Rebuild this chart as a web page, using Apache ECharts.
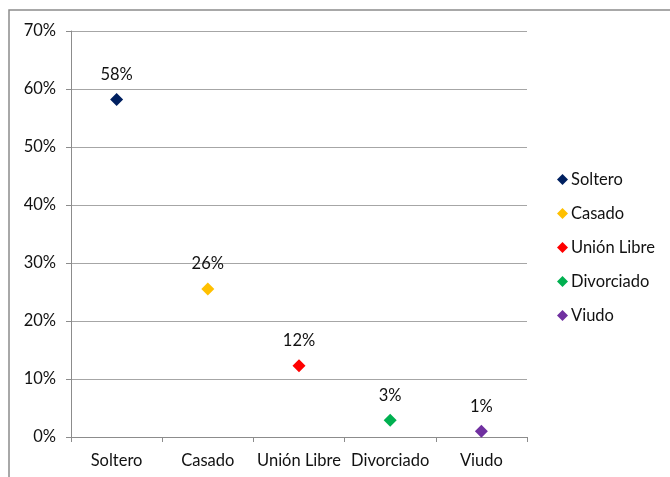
<!DOCTYPE html>
<html><head><meta charset="utf-8">
<script src="https://cdn.jsdelivr.net/npm/echarts@6/dist/echarts.min.js"></script>
<style>html,body{margin:0;padding:0;background:#fff;}#c{width:670px;height:477px;}</style>
</head><body><div id="c"></div>
<script>
var categories = ['Soltero', 'Casado', 'Unión Libre', 'Divorciado', 'Viudo'];
var values = [0.582, 0.255, 0.123, 0.029, 0.010];
var colors = ['#002060', '#FFC000', '#FF0000', '#00B050', '#7030A0'];
var yTicks = [0, 0.1, 0.2, 0.3, 0.4, 0.5, 0.6, 0.7];

var font = 'Lato, "Open Sans", sans-serif';
var series = categories.map(function (name, i) {
  return {
    name: name,
    type: 'scatter',
    symbol: 'diamond',
    symbolSize: 13,
    itemStyle: { color: colors[i], opacity: 1 },
    label: {
      show: true, position: 'top', distance: 10,
      color: '#111', fontFamily: font, fontSize: 16.5,
      formatter: function (p) { return Math.round(p.value[1] * 100) + '%'; }
    },
    data: [[i, values[i]]]
  };
});

var chart = echarts.init(document.getElementById('c'));
chart.setOption({
  animation: false,
  graphic: [{ type: 'rect', shape: { x: 9, y: 10, width: 700, height: 500 },
    style: { fill: 'none', stroke: '#8c8c8c', lineWidth: 1.5 }, silent: true }],
  grid: { left: 71, top: 31, right: 143, bottom: 40, containLabel: false },
  legend: {
    orient: 'vertical', left: 552, top: 166, itemGap: 17,
    itemWidth: 11, itemHeight: 11, icon: 'diamond',
    itemStyle: { opacity: 1 },
    textStyle: { fontFamily: font, fontSize: 16.5, color: '#111', padding: [0, 0, 0, -2] },
    data: categories
  },
  xAxis: {
    type: 'category', data: categories, boundaryGap: true,
    axisLine: { lineStyle: { color: '#8c8c8c', width: 1 } },
    axisTick: { show: true, length: 5, interval: 0, lineStyle: { color: '#8c8c8c' } },
    axisLabel: { interval: 0, margin: 15, color: '#111', fontFamily: font, fontSize: 16.5 },
    splitLine: { show: false }
  },
  yAxis: {
    type: 'value', min: 0, max: 0.7, interval: 0.1,
    axisLine: { show: true, lineStyle: { color: '#8c8c8c', width: 1 } },
    axisTick: { show: true, length: 5, lineStyle: { color: '#8c8c8c' } },
    axisLabel: { margin: 15, color: '#111', fontFamily: font, fontSize: 16.5,
      formatter: function (v) { return Math.round(v * 100) + '%'; } },
    splitLine: { show: true, lineStyle: { color: '#a6a6a6', width: 1 } }
  },
  series: series
});
</script></body></html>
